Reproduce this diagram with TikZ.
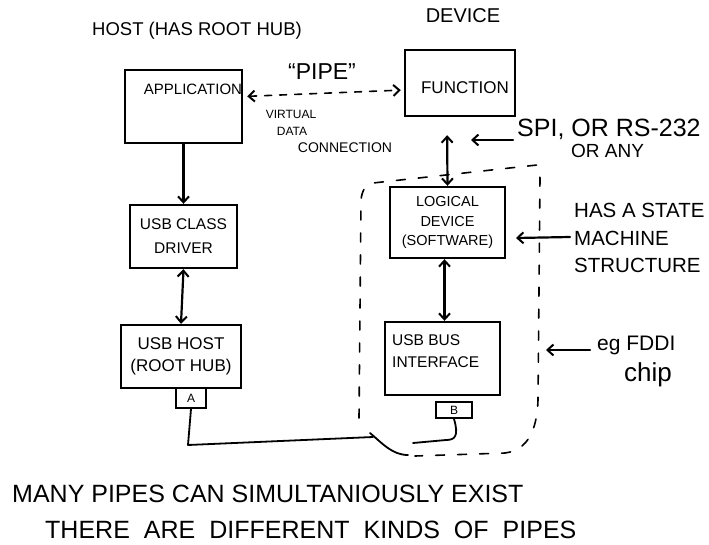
\documentclass[tikz,border=0pt]{standalone}
\usepackage{fontspec}
\setmainfont{Liberation Sans}
\usetikzlibrary{arrows.meta}
\begin{document}
\begin{tikzpicture}[x=1pt,y=-1pt,
  box/.style={draw, line width=2.4pt, inner sep=0pt},
  lbl/.style={inner sep=0pt, align=center},
  conn/.style={line width=2.2pt, line cap=round, line join=round},
  barb/.tip={Straight Barb[length=6pt,width=11pt,line width=2pt]},
  tip/.style={conn, -barb},
  dtip/.style={conn, barb-barb},
  fence/.style={line width=1.6pt, dash pattern=on 9pt off 13pt, line cap=round},
  cable/.style={line width=1.8pt, line cap=round, line join=round}
]
\useasboundingbox (0,0) rectangle (709,544);

% headings
\node[lbl, font=\fontsize{18.5}{22}\selectfont] (hostT) at (197,31) {HOST (HAS ROOT HUB)};
\node[lbl, font=\fontsize{20}{22}\selectfont] (devT) at (463,16) {DEVICE};

% host side boxes
\node[box, minimum width=117pt, minimum height=73pt] (app) at (183.5,106.5) {};
\node[lbl, font=\fontsize{15}{17}\selectfont] (appT) at (193,89) {APPLICATION};
\node[box, minimum width=107pt, minimum height=63pt, lbl, font=\fontsize{15.5}{24}\selectfont] (cls) at (183.5,236.5) {USB CLASS\\DRIVER};
\node[box, minimum width=120pt, minimum height=63pt, lbl, font=\fontsize{17}{22}\selectfont] (host) at (181,356.5) {USB HOST\\(ROOT HUB)};
\node[box, line width=2pt, minimum width=30pt, minimum height=20pt, font=\fontsize{12}{14}\selectfont] (pa) at (191,398) {A};

% device side boxes
\node[box, minimum width=110pt, minimum height=66pt] (func) at (460,83) {};
\node[lbl, font=\fontsize{17}{19}\selectfont] (funcT) at (465,88) {FUNCTION};
\node[box, minimum width=115pt, minimum height=71pt, lbl, font=\fontsize{14.5}{19.5}\selectfont] (logic) at (447.5,222.5) {LOGICAL\\DEVICE\\(SOFTWARE)};
\node[box, minimum width=115pt, minimum height=73pt] (bus) at (442.5,358.5) {};
\node[lbl, align=left, anchor=west, font=\fontsize{15.5}{22}\selectfont] (busT) at (392,351) {USB BUS\\INTERFACE};
\node[box, line width=2pt, minimum width=36pt, minimum height=16pt, font=\fontsize{12}{14}\selectfont] (pb) at (454,410) {B};

% stack connectors
\draw[tip] (app.south) -- (cls.north);
\draw[dtip] (cls.south) -- (host.north);
\draw[dtip, shorten <=18pt] ([xshift=-13pt]func.south) -- (logic.north);
\draw[dtip] ([xshift=-3pt]logic.south) -- ([xshift=2pt]bus.north);

% the pipe between application and function
\node[lbl, font=\fontsize{23}{25}\selectfont] (pipeT) at (322,72) {``PIPE''};
\draw[dtip, line width=1.6pt, dash pattern=on 7pt off 8pt, shorten <=4pt, shorten >=3pt]
  ([yshift=10pt]app.east) -- ([yshift=-7pt]func.west);
\node[lbl, font=\fontsize{12}{13}\selectfont] (virtT) at (291,114) {VIRTUAL};
\node[lbl, font=\fontsize{12}{13}\selectfont] (dataT) at (292,131) {DATA};
\node[lbl, font=\fontsize{14}{16}\selectfont] (connT) at (345,148) {CONNECTION};

% device boundary
\draw[fence] (359,418) -- (361,200)
  .. controls (362,190) and (366,184) .. (373,183)
  -- (537,165) -- (540,178) -- (538,400)
  .. controls (537,430) and (528,450) .. (505,453) -- (415,456);
\draw[cable] (370,433) .. controls (382,443) and (392,455) .. (408,455);

% cable from port A to port B
\draw[cable] (pa.south) -- (188,445) -- (373,437);
\draw[cable] (pb.south) .. controls (459,436) and (455,440) .. (446,440) -- (413,443);

% side notes
\node[lbl, font=\fontsize{25}{27}\selectfont, anchor=west] (spiT) at (517,129) {SPI, OR RS-232};
\node[lbl, font=\fontsize{19}{21}\selectfont, anchor=west] (anyT) at (571,151) {OR ANY};
\coordinate (spiTo) at (471,140);
\draw[tip] (513,140) -- (spiTo);

\node[lbl, font=\fontsize{20.5}{27.5}\selectfont, anchor=west, align=left] (stateT) at (574,238) {HAS A STATE\\MACHINE\\STRUCTURE};
\coordinate (stateTo) at (516,238);
\draw[tip] (570,237) -- (stateTo);

\node[lbl, font=\fontsize{21}{23}\selectfont, anchor=west] (fddiT) at (597,345) {eg FDDI};
\node[lbl, font=\fontsize{26}{28}\selectfont, anchor=west] (chipT) at (624,375) {chip};
\coordinate (fddiTo) at (546,350);
\draw[tip] (590,350) -- (fddiTo);

% notes at the bottom
\node[lbl, font=\fontsize{25}{27}\selectfont, anchor=west] (noteA) at (12,494) {MANY PIPES CAN SIMULTANIOUSLY EXIST};
\node[lbl, font={\fontsize{25}{27}\selectfont\spaceskip=0.56em\relax}, anchor=west] (noteB) at (45,530) {THERE ARE DIFFERENT KINDS OF PIPES};
\end{tikzpicture}
\end{document}
